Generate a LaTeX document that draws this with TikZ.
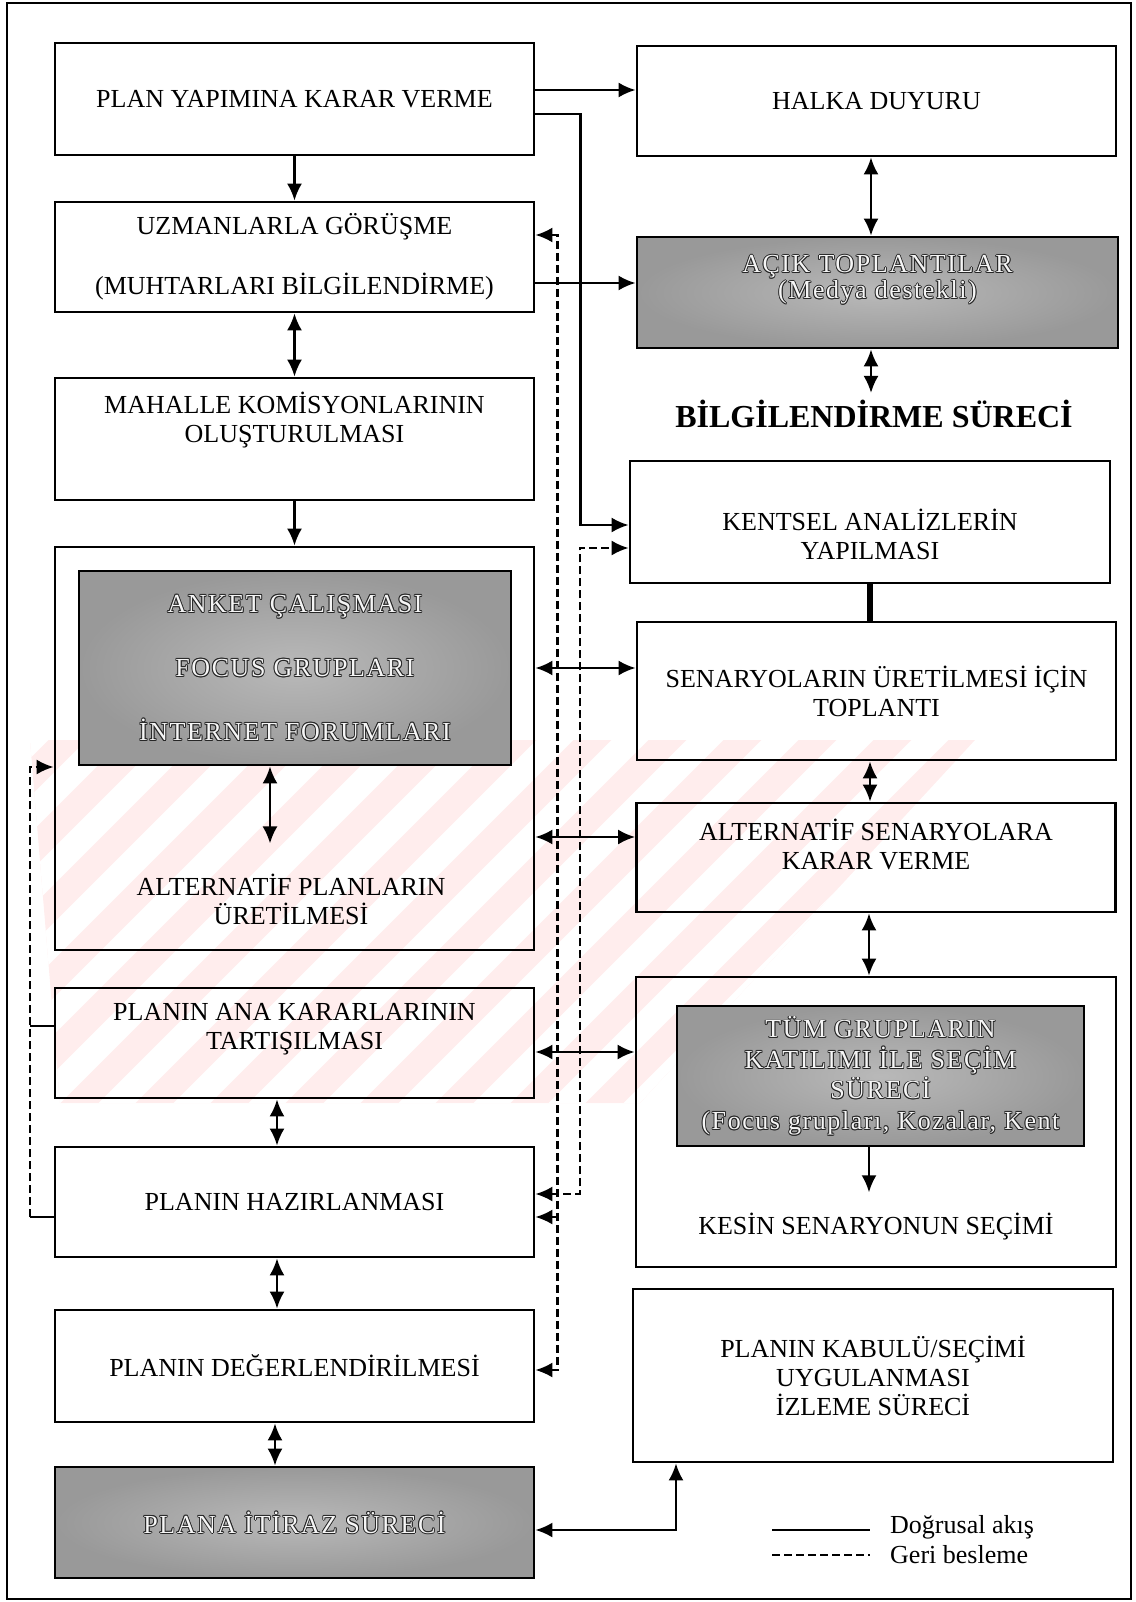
\documentclass[tikz,border=0pt]{standalone}
\usepackage{fontspec}
\setmainfont{Liberation Serif}
\newfontfamily\greyfont[LetterSpace=6]{Liberation Serif}
\usetikzlibrary{positioning, arrows.meta}

\newcommand\boxfont{\fontsize{26}{29}\selectfont}
% dark copies round the light text of the grey boxes
\newcommand\outcopy[3]{\rlap{\kern#1\raisebox{#2}{\color{black!85}#3}}}
\newcommand\outtext[1]{%
  \outcopy{-0.9pt}{0pt}{#1}\outcopy{0.9pt}{0pt}{#1}%
  \outcopy{0pt}{0.9pt}{#1}\outcopy{0pt}{-0.9pt}{#1}%
  \outcopy{0.65pt}{0.65pt}{#1}\outcopy{-0.65pt}{0.65pt}{#1}%
  \outcopy{0.65pt}{-0.65pt}{#1}\outcopy{-0.65pt}{-0.65pt}{#1}%
  {\color{gray!8}#1}}

\begin{document}
\begin{tikzpicture}[x=1pt, y=-1pt,
    box/.style={draw, line width=2.8pt, minimum width=479pt, inner sep=4pt,
        align=center, font=\boxfont},
    greybox/.style={box, inner color=gray!55, outer color=gray!80,
        font=\greyfont\boxfont},
    txt/.style={align=center, font=\boxfont, inner sep=3pt},
    arr/.style={line width=2.3pt, -{Latex[length=17pt, width=15pt]}},
    darr/.style={line width=2.3pt,
        {Latex[length=17pt, width=15pt]}-{Latex[length=17pt, width=15pt]}},
    fb/.style={line width=2.2pt, dash pattern=on 8pt off 4pt},
    fbarr/.style={fb, -{Latex[length=17pt, width=15pt]}},
    fbdarr/.style={fb,
        {Latex[length=17pt, width=15pt]}-{Latex[length=17pt, width=15pt]}},
  ]
  \useasboundingbox (0,0) rectangle (1135,1602);

  % watermark
  \begin{scope}
    \clip (30,740) -- (975,740) -- (640,1103) -- (60,1103) -- cycle;
    \fill[red!7] (0,700) rectangle (1000,1110);
    \foreach \k in {0,...,17}
      \draw[white, line width=26pt] ({\k*75-350},1120) -- ++(400,-400);
  \end{scope}

  \draw[line width=2.8pt] (7,3) rectangle (1131,1599);

  % left column
  \node[box, minimum height=112pt] (plan) at (294.5,99) {PLAN YAPIMINA KARAR VERME};
  \node[box, minimum height=110pt] (uzman) at (294.5,257)
    {UZMANLARLA GÖRÜŞME\\[31pt](MUHTARLARI BİLGİLENDİRME)};
  \node[box, minimum height=122pt] (mahalle) at (294.5,439) {};
  \node[txt] (mahalleT) at ([yshift=19pt]mahalle.center)
    {MAHALLE KOMİSYONLARININ\\OLUŞTURULMASI};
  \node[box, minimum height=403pt] (alt) at (294.5,748.5) {};
  \node[greybox, minimum width=432pt, minimum height=194pt] (anket) at (295,668)
    {\outtext{ANKET ÇALIŞMASI}\\[35pt]\outtext{FOCUS GRUPLARI}\\[35pt]\outtext{İNTERNET FORUMLARI}};
  \node[txt] (altT) at (291,899) {ALTERNATİF PLANLARIN\\ÜRETİLMESİ};
  \node[box, minimum height=110pt] (ana) at (294.5,1043) {};
  \node[txt] (anaT) at ([yshift=14pt]ana.center) {PLANIN ANA KARARLARININ\\TARTIŞILMASI};
  \node[box, minimum height=110pt] (hazir) at (294.5,1202) {PLANIN HAZIRLANMASI};
  \node[box, minimum height=112pt] (deger) at (294.5,1366) {PLANIN DEĞERLENDİRİLMESİ};
  \node[greybox, minimum height=111pt] (itiraz) at (294.5,1522.5) {\outtext{PLANA İTİRAZ SÜRECİ}};

  % right column
  \node[box, minimum height=110pt] (halka) at (876.5,101) {HALKA DUYURU};
  \node[greybox, minimum width=481pt, minimum height=111pt] (acik) at (877.5,292.5) {};
  \node[txt, font=\greyfont\fontsize{26}{26}\selectfont] (acikT) at ([yshift=12.5pt]acik.center)
    {\outtext{AÇIK TOPLANTILAR}\\\outtext{(Medya destekli)}};
  \node[font=\fontsize{32}{36}\selectfont\bfseries, inner sep=3pt] (bilgi) at (874,414)
    {BİLGİLENDİRME SÜRECİ};
  \node[box, minimum width=480pt, minimum height=122pt] (kentsel) at (870,522) {};
  \node[txt] (kentselT) at ([yshift=-12pt]kentsel.center) {KENTSEL ANALİZLERİN\\YAPILMASI};
  \node[box, minimum height=138pt] (senaryo) at (876.5,691)
    {SENARYOLARIN ÜRETİLMESİ İÇİN\\TOPLANTI};
  \node[box, minimum height=109pt] (karar) at (876,857.5) {};
  \node[txt] (kararT) at ([yshift=13.5pt]karar.center) {ALTERNATİF SENARYOLARA\\KARAR VERME};
  \node[box, minimum width=480pt, minimum height=290pt] (secim) at (876,1122) {};
  \node[greybox, minimum width=407pt, minimum height=140pt,
      font=\greyfont\fontsize{26}{30.5}\selectfont] (tum) at (880.5,1076)
    {\outtext{TÜM GRUPLARIN}\\\outtext{KATILIMI İLE SEÇİM}\\\outtext{SÜRECİ}\\\outtext{(Focus grupları, Kozalar, Kent}};
  \node[txt] (kesin) at (876,1227) {KESİN SENARYONUN SEÇİMİ};
  \node[box, minimum width=480pt, minimum height=173pt] (kabul) at (873,1375.5)
    {PLANIN KABULÜ/SEÇİMİ\\UYGULANMASI\\İZLEME SÜRECİ};

  % legend
  \node[txt, anchor=west] (lgline) at (887,1527) {Doğrusal akış};
  \node[txt, anchor=west] (lgfb) at (887,1555) {Geri besleme};

  % linear flow
  \draw[arr] ([yshift=9pt]plan.east) -- ([yshift=9pt]plan.east -| halka.west);
  \draw[arr] ([yshift=-15pt]plan.east) -| ([xshift=-48pt, yshift=-3pt]kentsel.west)
    -- ([yshift=-3pt]kentsel.west);
  \draw[arr] (plan) -- (uzman);
  \draw[arr] ([yshift=-26pt]uzman.east) -- ([yshift=-26pt]uzman.east -| acik.west);
  \draw[darr] (uzman) -- (mahalle);
  \draw[arr] (mahalle) -- (alt);
  \draw[darr] ([xshift=-25pt]anket.south) -- ([xshift=-21pt, yshift=27pt]altT.north);
  \draw[darr] ([xshift=-17.5pt]ana.south) -- ([xshift=-17.5pt]hazir.north);
  \draw[darr] ([xshift=-17.5pt]hazir.south) -- ([xshift=-17.5pt]deger.north);
  \draw[darr] ([xshift=-19.5pt]deger.south) -- ([xshift=-19.5pt]itiraz.north);

  \draw[darr] ([xshift=-5.5pt]halka.south) -- ([xshift=-5.5pt]halka.south |- acik.north);
  \draw[darr] ([xshift=-6.5pt]acik.south) -- ([xshift=-3pt, yshift=4pt]bilgi.north);
  \draw[line width=6pt] (kentsel.south) -- (kentsel.south |- senaryo.north);
  \draw[darr] ([xshift=-6.5pt]senaryo.south) -- ([xshift=-6.5pt]senaryo.south |- karar.north);
  \draw[darr] ([xshift=-7pt]karar.south) -- ([xshift=-7pt]karar.south |- secim.north);
  \draw[arr] ([xshift=-11.5pt]tum.south) -- ([xshift=-7pt, yshift=18pt]kesin.north);

  \draw[darr] ([yshift=23pt]senaryo.west -| alt.east) -- ([yshift=23pt]senaryo.west);
  \draw[darr] ([yshift=20.5pt]karar.west -| alt.east) -- ([yshift=20.5pt]karar.west);
  \draw[darr] ([yshift=-9pt]ana.east) -- ([yshift=-9pt]ana.east -| secim.west);
  \draw[darr] ([yshift=-7.5pt]itiraz.east) -| ([xshift=-197pt]kabul.south);

  % feedback
  \draw[fbdarr] ([yshift=22pt]uzman.east) -| ([xshift=22pt, yshift=-4pt]deger.east)
    -- ([yshift=-4pt]deger.east);
  \draw[fbarr] ([xshift=22pt, yshift=-15pt]hazir.east) -- ([yshift=-15pt]hazir.east);
  \draw[fbdarr] ([yshift=8pt]hazir.east) -| ([xshift=-49pt, yshift=-26pt]kentsel.west)
    -- ([yshift=-26pt]kentsel.west);

  \coordinate (loopB) at ([xshift=-24pt, yshift=-15pt]hazir.west);
  \coordinate (loopT) at ([xshift=-24pt, yshift=-18.5pt]alt.west);
  \draw[line width=2.3pt] ([yshift=-15pt]hazir.west) -- (loopB);
  \draw[line width=2.3pt] ([yshift=17pt]ana.west) -- ([yshift=17pt]ana.west -| loopB);
  \draw[fbarr] (loopB) -- (loopT) -- ([yshift=-18.5pt]alt.west);

  % legend lines
  \draw[line width=2.3pt] ([xshift=-115pt, yshift=-3pt]lgline.west)
    -- ([xshift=-17pt, yshift=-3pt]lgline.west);
  \draw[fb] ([xshift=-115pt]lgfb.west) -- ([xshift=-17pt]lgfb.west);
\end{tikzpicture}
\end{document}
